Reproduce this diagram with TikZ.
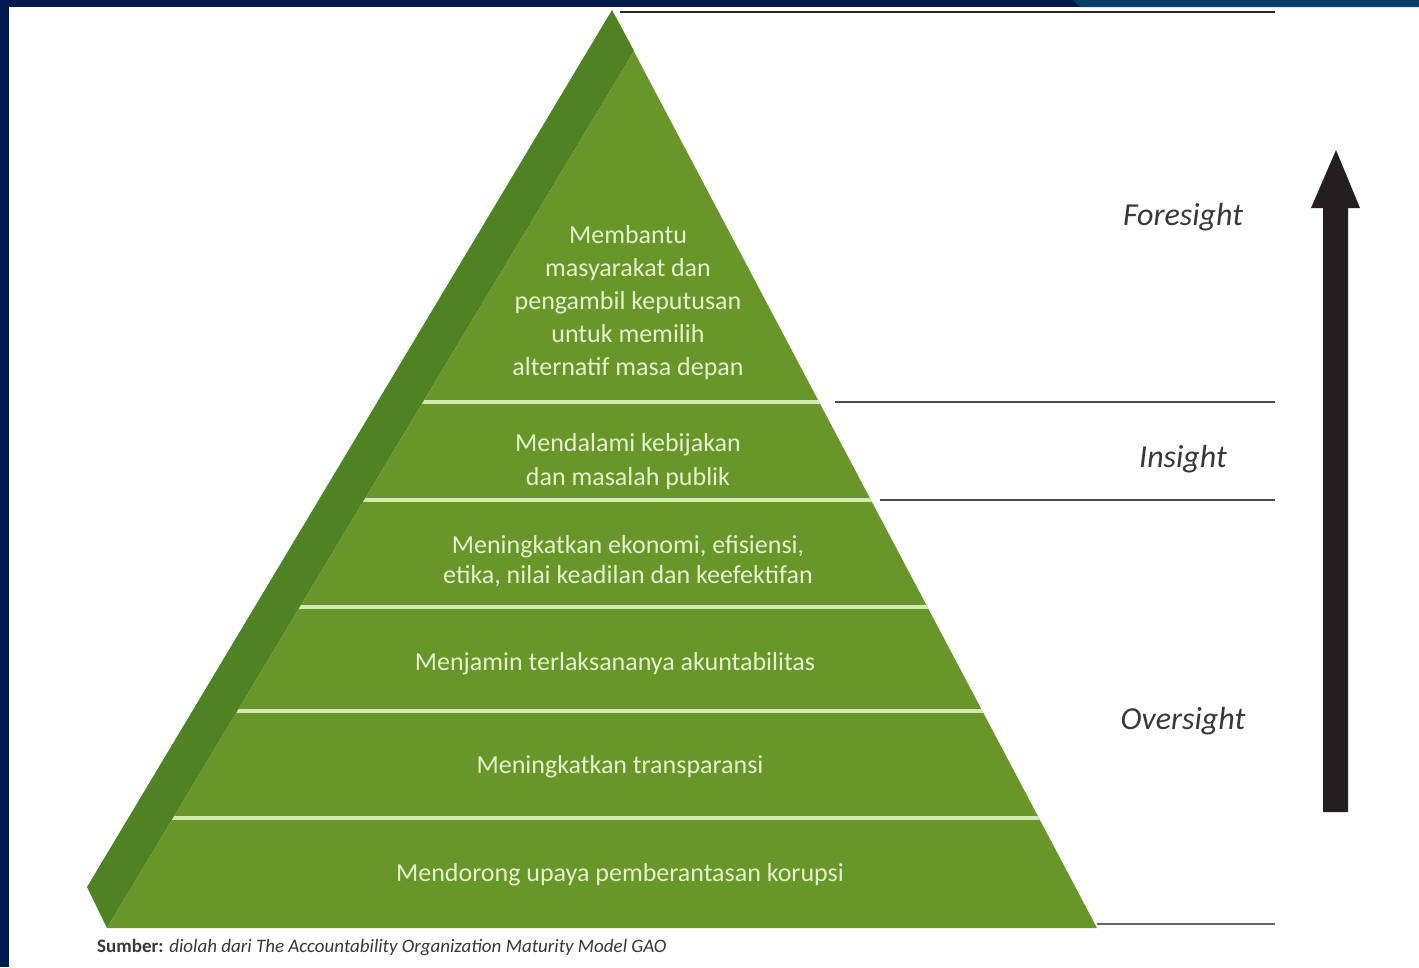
\documentclass[tikz,border=0pt]{standalone}
\usepackage{fontspec}
\setmainfont{Carlito}
\definecolor{navy}{RGB}{0,26,77}
\definecolor{teal2}{RGB}{0,64,102}
\definecolor{frontg}{RGB}{104,150,40}
\definecolor{sideg}{RGB}{78,130,35}
\definecolor{bandline}{RGB}{210,235,180}
\definecolor{pyrtxt}{RGB}{228,242,208}
\definecolor{labgrey}{RGB}{55,55,60}
\definecolor{arrowblk}{RGB}{35,31,32}
\begin{document}
\begin{tikzpicture}[x=1pt,y=-1pt,
  pyrtext/.style={text=pyrtxt, align=center, inner sep=0pt},
  levellabel/.style={text=labgrey, font=\fontsize{32}{36}\selectfont\itshape, inner sep=0pt},
  rline/.style={draw=black!80, line width=2.6pt},
  bline/.style={draw=bandline, line width=3.5pt}]
% canvas
\fill[white] (0,0) rectangle (1419,967);
\useasboundingbox (0,0) rectangle (1419,967);
\fill[navy] (0,0) rectangle (1419,7);
\fill[teal2] (1073,0) -- (1419,0) -- (1419,7) -- (1080,7) -- cycle;
\fill[navy] (0,0) rectangle (9,967);
% pyramid
\coordinate (apex) at (612,10);
\coordinate (fapex) at (634,51);
\coordinate (sideL) at (87,887);
\coordinate (botL) at (107,928);
\coordinate (botR) at (1097,928);
\fill[sideg] (apex) -- (sideL) -- (botL) -- (fapex) -- cycle;
\fill[frontg] (apex) -- (fapex) -- (botL) -- (botR) -- cycle;
\begin{scope}
  \clip (fapex) -- (botL) -- (botR) -- cycle;
  \foreach \yy in {402,500,607,711,818} {
    \draw[bline] (100,\yy) -- (1110,\yy);
  }
\end{scope}
% pyramid texts
\node[pyrtext, font=\fontsize{26}{33}\selectfont] (l1) at (628,303)
  {Membantu\\masyarakat dan\\pengambil keputusan\\untuk memilih\\alternatif masa depan};
\node[pyrtext, font=\fontsize{26}{34}\selectfont] (l2) at (628,462)
  {Mendalami kebijakan\\dan masalah publik};
\node[pyrtext, font=\fontsize{26}{30}\selectfont] (l3) at (628,561)
  {Meningkatkan ekonomi, efisiensi,\\etika, nilai keadilan dan keefektifan};
\node[pyrtext, font=\fontsize{26}{30}\selectfont] (l4) at (615,664)
  {Menjamin terlaksananya akuntabilitas};
\node[pyrtext, font=\fontsize{26}{30}\selectfont] (l5) at (620,767)
  {Meningkatkan transparansi};
\node[pyrtext, font=\fontsize{26}{30}\selectfont] (l6) at (620,875)
  {Mendorong upaya pemberantasan korupsi};
% right lines
\coordinate (r1a) at (620,12);  \coordinate (r1b) at (1275,12);
\coordinate (r2a) at (835,402); \coordinate (r2b) at (1275,402);
\coordinate (r3a) at (880,500); \coordinate (r3b) at (1275,500);
\coordinate (r4a) at (1097,924); \coordinate (r4b) at (1275,924);
\draw[rline, draw=black!85] (r1a) -- (r1b);
\draw[rline, draw=black!70] (r2a) -- (r2b);
\draw[rline, draw=black!70] (r3a) -- (r3b);
\draw[rline, draw=black!60] (r4a) -- (r4b);
% level labels
\node[levellabel] (fore) at (1183,217) {Foresight};
\node[levellabel] (ins) at (1183,459) {Insight};
\node[levellabel] (over) at (1183,721) {Oversight};
% arrow
\fill[arrowblk] (1323,812) -- (1323,208) -- (1311,208) -- (1336,150) -- (1360,208) -- (1348,208) -- (1348,812) -- cycle;
% caption
\node[anchor=west, inner sep=0pt, text=labgrey, font=\fontsize{19}{22}\selectfont] (src) at (97,947)
  {\textbf{Sumber:} \textit{diolah dari The Accountability Organization Maturity Model GAO}};
\end{tikzpicture}
\end{document}
